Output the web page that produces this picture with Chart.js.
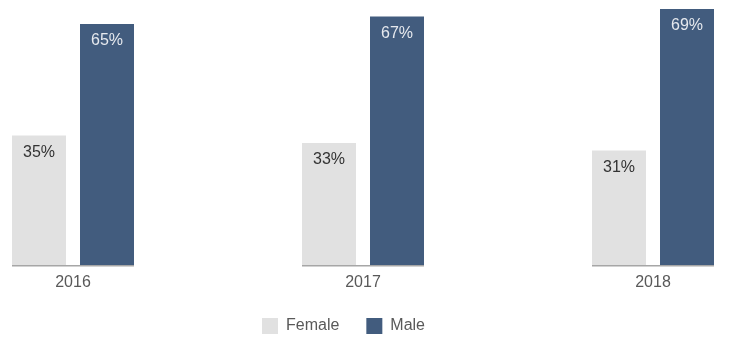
<!DOCTYPE html>
<html>
<head>
<meta charset="utf-8">
<script src="https://cdn.jsdelivr.net/npm/chart.js@4"></script>
<style>
html,body{margin:0;padding:0;background:#fff;}
#wrap{width:730px;height:351px;position:relative;}
</style>
</head>
<body>
<div id="wrap"><canvas id="c"></canvas></div>
<script>
const categories = ['2016', '2017', '2018'];
const femaleValues = [35, 33, 31];
const maleValues = [65, 67, 69];
const seriesNames = ['Female', 'Male'];

const FONT = '"Liberation Sans", Arial, sans-serif';

const valueLabels = {
  id: 'valueLabels',
  afterDatasetsDraw(chart) {
    const ctx = chart.ctx;
    ctx.save();
    ctx.font = '16px ' + FONT;
    ctx.textAlign = 'center';
    ctx.textBaseline = 'middle';
    chart.data.datasets.forEach((ds, di) => {
      const meta = chart.getDatasetMeta(di);
      meta.data.forEach((bar, i) => {
        ctx.fillStyle = di === 0 ? '#333333' : '#e6e9ee';
        ctx.fillText(ds.data[i] + '%', bar.x, bar.y + 17);
      });
    });
    ctx.restore();
  }
};

const baseSegments = {
  id: 'baseSegments',
  afterDatasetsDraw(chart) {
    const ctx = chart.ctx;
    const m0 = chart.getDatasetMeta(0), m1 = chart.getDatasetMeta(1);
    const y = chart.scales.y.getPixelForValue(0);
    ctx.save();
    ctx.strokeStyle = '#a6a6a6';
    ctx.lineWidth = 1.5;
    m0.data.forEach((b0, i) => {
      const b1 = m1.data[i];
      ctx.beginPath();
      ctx.moveTo(b0.x - b0.width / 2, y);
      ctx.lineTo(b1.x + b1.width / 2, y);
      ctx.stroke();
    });
    ctx.restore();
  }
};

// nudge the legend block (it sits slightly left of centre in the reference)
const legendNudge = {
  id: 'legendNudge',
  afterLayout(chart) {
    const lg = chart.legend;
    if (!lg) return;
    lg.left -= 19.5;
    lg.right -= 19.5;
    lg.top -= 8;
    lg.bottom -= 8;
  }
};

new Chart(document.getElementById('c'), {
  type: 'bar',
  data: {
    labels: categories,
    datasets: [
      { label: seriesNames[0], data: femaleValues, backgroundColor: '#e1e1e1', clip: false },
      { label: seriesNames[1], data: maleValues, backgroundColor: '#425c7e', clip: false }
    ]
  },
  options: {
    responsive: true,
    maintainAspectRatio: false,
    animation: false,
    barPercentage: 0.794,
    categoryPercentage: 0.469,
    layout: { padding: { left: 73, right: 77, top: 9, bottom: -1 } },
    scales: {
      x: {
        offset: false,
        grid: { display: false, drawTicks: false },
        border: { display: false },
        ticks: { color: '#595959', font: { size: 16, family: FONT }, padding: 7 }
      },
      y: {
        display: false,
        min: 0,
        max: 69
      }
    },
    plugins: {
      legend: {
        position: 'bottom',
        labels: {
          boxWidth: 16,
          boxHeight: 16,
          padding: 27,
          color: '#595959',
          font: { size: 16, family: FONT }
        }
      },
      tooltip: { enabled: false }
    }
  },
  plugins: [valueLabels, baseSegments, legendNudge]
});
</script>
</body>
</html>
